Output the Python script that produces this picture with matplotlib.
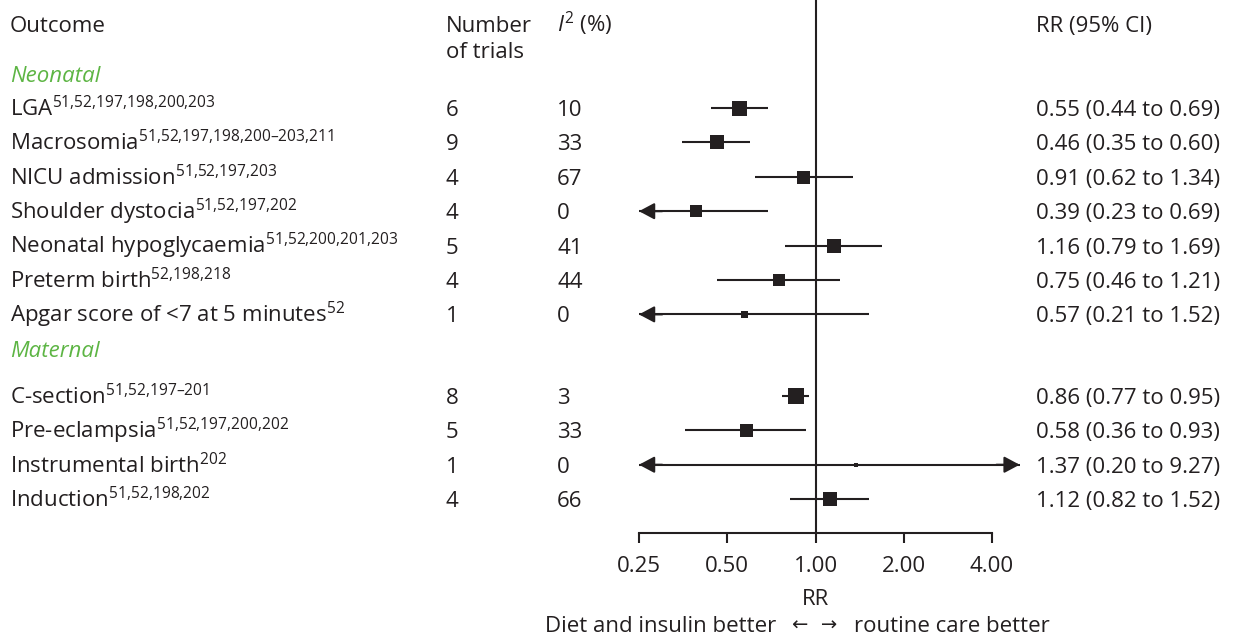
import matplotlib
matplotlib.use("Agg")
import matplotlib.pyplot as plt
import matplotlib.transforms as mtransforms

plt.rcParams['font.family'] = ['Open Sans', 'DejaVu Sans']
plt.rcParams['mathtext.fontset'] = 'custom'
plt.rcParams['mathtext.rm'] = 'Open Sans'
plt.rcParams['mathtext.it'] = 'Open Sans:italic'
plt.rcParams['mathtext.bf'] = 'Open Sans:bold'

# data
neonatal = ["LGA", "Macrosomia", "NICU admission", "Shoulder dystocia",
            "Neonatal hypoglycaemia", "Preterm birth", "Apgar score of <7 at 5 minutes"]
neonatal_refs = ["51,52,197,198,200,203", "51,52,197,198,200\u2013203,211", "51,52,197,203",
                 "51,52,197,202", "51,52,200,201,203", "52,198,218", "52"]
maternal = ["C-section", "Pre-eclampsia", "Instrumental birth", "Induction"]
maternal_refs = ["51,52,197\u2013201", "51,52,197,200,202", "202", "51,52,198,202"]

n_trials = [6, 9, 4, 4, 5, 4, 1, 8, 5, 1, 4]
i2 = [10, 33, 67, 0, 41, 44, 0, 3, 33, 0, 66]
rr = [0.55, 0.46, 0.91, 0.39, 1.16, 0.75, 0.57, 0.86, 0.58, 1.37, 1.12]
lo = [0.44, 0.35, 0.62, 0.23, 0.79, 0.46, 0.21, 0.77, 0.36, 0.20, 0.82]
hi = [0.69, 0.60, 1.34, 0.69, 1.69, 1.21, 1.52, 0.95, 0.93, 9.27, 1.52]
weights = [15, 14, 13, 12, 14, 12, 7, 16, 13, 5, 14]  # square side, px

ticks = [0.25, 0.5, 1.0, 2.0, 4.0]
tick_labels = ["0.25", "0.50", "1.00", "2.00", "4.00"]

W, H = 1236, 637
fig = plt.figure(figsize=(W / 100, H / 100), dpi=100)
fig.patch.set_facecolor('white')
ink = '#231f20'
green = '#5db544'
fs = 16

# forest axes: x from px 639 to 992, y from px 0 to 533
ax = fig.add_axes([639 / W, (H - 533) / H, (992 - 639) / W, 533 / H])
ax.set_xscale('log', base=2)
ax.set_xlim(0.25, 4.0)
row_px = 34.4
ax.set_ylim((533 - 108) / row_px, -108 / row_px)
for s in ['top', 'right', 'left']:
    ax.spines[s].set_visible(False)
ax.spines['bottom'].set_linewidth(1.5)
ax.spines['bottom'].set_color(ink)
ax.set_yticks([])
ax.set_xticks(ticks)
ax.set_xticklabels(tick_labels)
ax.xaxis.set_minor_locator(matplotlib.ticker.NullLocator())
ax.tick_params(axis='x', length=7.2, width=1.5, color=ink, labelsize=fs,
               pad=9, labelcolor=ink)
ax.set_xlabel("RR", fontsize=fs, color=ink, labelpad=9)
ax.axvline(1.0, color=ink, lw=1.5, zorder=1)

# row positions
y_neo = list(range(len(neonatal)))
y_mat = [8.37 + i for i in range(len(maternal))]
ys = y_neo + y_mat
names = neonatal + maternal
refs = neonatal_refs + maternal_refs

lo_clip, hi_clip = 0.25, 4.97
for y, r, l, h, w in zip(ys, rr, lo, hi, weights):
    l2 = max(l, lo_clip)
    h2 = min(h, hi_clip)
    ax.plot([l2, h2], [y, y], color=ink, lw=1.5, zorder=2, solid_capstyle='butt',
            clip_on=False)
    ax.plot([r], [y], marker='s', ms=w * 0.72, color=ink, mec=ink, mew=0,
            zorder=3, clip_on=False)
    arrow = dict(arrowstyle='-|>,head_length=0.6,head_width=0.32', color=ink,
                 lw=1.5, mutation_scale=15.6, shrinkA=0, shrinkB=0)
    if l < lo_clip:
        ax.annotate('', xy=(l2, y), xytext=(l2 * 1.2, y), arrowprops=arrow,
                    annotation_clip=False)
    if h > hi_clip:
        ax.annotate('', xy=(h2, y), xytext=(h2 / 1.2, y), arrowprops=arrow,
                    annotation_clip=False)

# text columns: baseline sits 8 px below the row centre
blend = mtransforms.blended_transform_factory(fig.transFigure, ax.transData)
trans = mtransforms.offset_copy(blend, fig=fig, y=-8, units='dots')
x_out, x_n, x_i2, x_rr = 10 / W, 446 / W, 557 / W, 1036 / W


def txt(x, y, s, **kw):
    kw.setdefault('fontsize', fs)
    kw.setdefault('color', ink)
    return fig.text(x, y, s, transform=trans, va='baseline', ha='left', **kw)


def sup(s):
    return r"$^{\mathregular{" + s.replace(",", "{,}") + "}}$"


for y, name, ref in zip(ys, names, refs):
    txt(x_out, y, name.replace("<", "<") + sup(ref))

for y, n, i, r, l, h in zip(ys, n_trials, i2, rr, lo, hi):
    txt(x_n, y, str(n))
    txt(x_i2, y, str(i))
    txt(x_rr, y, f"{r:.2f} ({l:.2f} to {h:.2f})")

# headers
y_head = (24 - 108) / row_px
txt(x_out, y_head, "Outcome")
txt(x_n, y_head, "Number")
txt(x_n, (50 - 108) / row_px, "of trials")
txt(x_i2, y_head, r"$\mathit{I}^{\mathregular{2}}$ (%)")
txt(x_rr, y_head, "RR (95% CI)")

txt(x_out, -1, "Neonatal", color=green, style='italic')
txt(x_out, 7, "Maternal", color=green, style='italic')

# direction caption, arrows centred on RR = 1
yb = 1 - 632 / H
fig.text(776 / W, yb, "Diet and insulin better", fontsize=fs, ha='right',
         va='baseline', color=ink)
fig.text(815 / W, yb + 2 / H, "\u2190  \u2192", fontsize=fs - 2, ha='center',
         va='baseline', color=ink, family=['DejaVu Sans'])
fig.text(854 / W, yb, "routine care better", fontsize=fs, ha='left',
         va='baseline', color=ink)

fig.savefig("out.png", dpi=100, facecolor='white')
